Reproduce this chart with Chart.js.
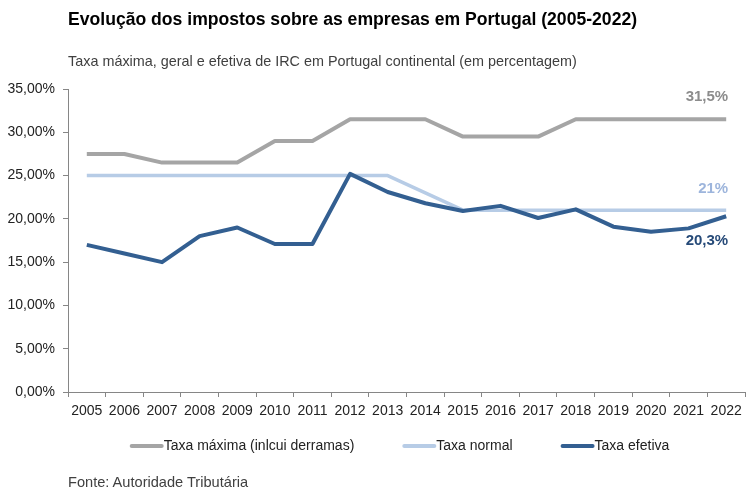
<!DOCTYPE html>
<html>
<head>
<meta charset="utf-8">
<script src="https://cdn.jsdelivr.net/npm/chart.js@4.4.0/dist/chart.umd.min.js"></script>
<style>
html, body { margin: 0; padding: 0; background: #fff; }
#wrap { position: relative; width: 756px; height: 496px; font-family: "Liberation Sans Narrow", "Liberation Sans", Arial, sans-serif; }
#chart { position: absolute; left: 0; top: 0; }
.txt { position: absolute; left: 68px; white-space: nowrap; line-height: 1; }
.title { top: 11px; font-size: 17.6px; font-weight: bold; color: #000; }
.sub { top: 54px; font-size: 14.4px; color: #404040; }
.src { top: 475px; font-size: 14.6px; color: #404040; }
</style>
</head>
<body>
<div id="wrap">
    <canvas id="chart" width="756" height="496"></canvas>
    <div class="txt title">Evolução dos impostos sobre as empresas em Portugal (2005-2022)</div>
    <div class="txt sub">Taxa máxima, geral e efetiva de IRC em Portugal continental (em percentagem)</div>
    <div class="txt src">Fonte: Autoridade Tributária</div>
</div>
<script>
var years = ['2005', '2006', '2007', '2008', '2009', '2010', '2011', '2012', '2013',
    '2014', '2015', '2016', '2017', '2018', '2019', '2020', '2021', '2022'];
var taxaMaxima = [27.5, 27.5, 26.5, 26.5, 26.5, 29, 29, 31.5, 31.5, 31.5, 29.5, 29.5, 29.5, 31.5, 31.5, 31.5, 31.5, 31.5];
var taxaNormal = [25, 25, 25, 25, 25, 25, 25, 25, 25, 23, 21, 21, 21, 21, 21, 21, 21, 21];
var taxaEfetiva = [17.0, 16.0, 15.0, 18.0, 19.0, 17.1, 17.1, 25.2, 23.1, 21.8, 20.9, 21.5, 20.1, 21.1, 19.1, 18.5, 18.9, 20.3];
var seriesNames = ['Taxa máxima (inlcui derramas)', 'Taxa normal', 'Taxa efetiva'];
var endLabels = ['31,5%', '21%', '20,3%'];

var FONT = '"Liberation Sans Narrow", "Liberation Sans", Arial, sans-serif';
var axisColor = '#868686';

// value label next to the last point of each line
var endLabelPlugin = {
    id: 'endLabels',
    afterDatasetsDraw: function (chart) {
        var ctx = chart.ctx;
        var cfg = [
            { color: '#8c8c8c', dy: -22 },
            { color: '#9db5dc', dy: -21 },
            { color: '#264a78', dy: 25 }
        ];
        ctx.save();
        ctx.font = 'bold 15px ' + FONT;
        ctx.textAlign = 'right';
        ctx.textBaseline = 'middle';
        chart.data.datasets.forEach(function (ds, i) {
            var meta = chart.getDatasetMeta(i);
            var pt = meta.data[meta.data.length - 1];
            ctx.fillStyle = cfg[i].color;
            ctx.fillText(endLabels[i], pt.x + 2, pt.y + cfg[i].dy);
        });
        ctx.restore();
    }
};

// Excel-like legend: line swatch + label, centered under the plot
var legendPlugin = {
    id: 'lineLegend',
    afterDraw: function (chart) {
        var ctx = chart.ctx;
        var sw = 32, gap = 2, spacing = 48, y = 446;
        ctx.save();
        ctx.font = '14px ' + FONT;
        var widths = chart.data.datasets.map(function (ds) { return sw + gap + ctx.measureText(ds.label).width; });
        var total = widths.reduce(function (a, b) { return a + b; }, 0) + spacing * (widths.length - 1);
        var area = chart.chartArea;
        var x = (area.left + area.right) / 2 - total / 2 - 7;
        ctx.textBaseline = 'middle';
        ctx.textAlign = 'left';
        chart.data.datasets.forEach(function (ds, i) {
            ctx.strokeStyle = ds.borderColor;
            ctx.lineWidth = 4;
            ctx.lineCap = 'round';
            ctx.beginPath();
            ctx.moveTo(x + 2, y);
            ctx.lineTo(x + sw, y);
            ctx.stroke();
            ctx.fillStyle = '#222';
            ctx.fillText(ds.label, x + sw + gap, y);
            x += widths[i] + spacing;
        });
        ctx.restore();
    }
};

new Chart(document.getElementById('chart'), {
    type: 'line',
    data: {
        labels: years,
        datasets: [
            { label: seriesNames[0], data: taxaMaxima, borderColor: '#a5a5a5', borderWidth: 4, order: 3 },
            { label: seriesNames[1], data: taxaNormal, borderColor: '#b7cce6', borderWidth: 3.5, order: 2 },
            { label: seriesNames[2], data: taxaEfetiva, borderColor: '#335f91', borderWidth: 4, order: 1 }
        ]
    },
    options: {
        responsive: false,
        animation: false,
        devicePixelRatio: 1,
        layout: { padding: { top: 89, right: 11, bottom: 0, left: 0 } },
        elements: {
            point: { radius: 0 },
            line: { tension: 0, borderJoinStyle: 'round', borderCapStyle: 'butt', fill: false }
        },
        plugins: {
            legend: { display: false },
            tooltip: { enabled: false }
        },
        scales: {
            x: {
                offset: true,
                grid: { display: true, drawOnChartArea: false, offset: true, tickLength: 5, color: axisColor },
                border: { color: axisColor },
                ticks: { font: { family: FONT, size: 14 }, color: '#222', padding: 6, maxRotation: 0, autoSkip: false },
                afterFit: function (s) { s.height = 104; }
            },
            y: {
                min: 0,
                max: 35,
                grid: { display: true, drawOnChartArea: false, tickLength: 5, color: axisColor },
                border: { color: axisColor },
                ticks: {
                    stepSize: 5,
                    padding: 8,
                    font: { family: FONT, size: 14 },
                    color: '#222',
                    callback: function (v) { return v.toFixed(2).replace('.', ',') + '%'; }
                },
                afterFit: function (s) { s.width = 68; }
            }
        }
    },
    plugins: [endLabelPlugin, legendPlugin]
});
</script>
</body>
</html>
